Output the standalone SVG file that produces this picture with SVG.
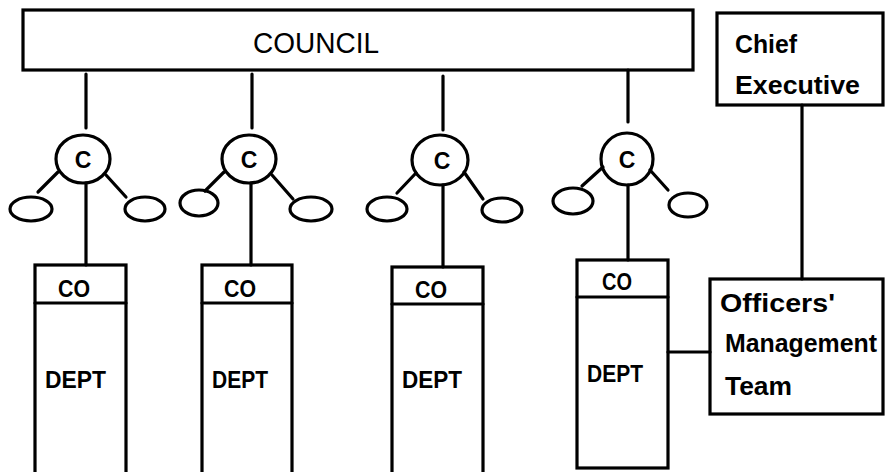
<svg xmlns="http://www.w3.org/2000/svg" width="887" height="472" viewBox="0 0 887 472">
<style>
.box{fill:none;stroke:#000;stroke-width:3.2}
.ln{fill:none;stroke:#000;stroke-width:3.2;stroke-linecap:round}
text{font-family:"Liberation Sans",Arial,sans-serif;font-weight:bold;fill:#000}
text.big{font-size:30px;font-weight:normal}
.t24{font-size:23px}
.t26{font-size:25px}
</style>
<rect width="887" height="472" fill="#fff"/>
<g id="council"><rect class="box" x="23" y="10" width="670" height="60"/><text class="big" x="253" y="53" textLength="126" lengthAdjust="spacingAndGlyphs">COUNCIL</text></g>
<g id="chief-executive"><rect class="box" x="717" y="13" width="166" height="92"/><text class="t26" x="735" y="53" textLength="62" lengthAdjust="spacingAndGlyphs">Chief</text><text class="t26" x="735" y="94" textLength="125" lengthAdjust="spacingAndGlyphs">Executive</text></g>
<g id="omt"><rect class="box" x="710" y="279" width="173" height="135"/><text class="t26" x="720" y="312" textLength="115" lengthAdjust="spacingAndGlyphs">Officers'</text><text class="t26" x="725" y="352" textLength="152" lengthAdjust="spacingAndGlyphs">Management</text><text class="t26" x="725" y="395" textLength="67" lengthAdjust="spacingAndGlyphs">Team</text></g>
<g id="c1"><ellipse class="box" cx="83" cy="159" rx="27" ry="24"/><text class="t24" x="83" y="168" text-anchor="middle">C</text><ellipse class="box" cx="31" cy="209" rx="21" ry="12"/><ellipse class="box" cx="145" cy="209" rx="20" ry="12"/></g>
<g id="c2"><ellipse class="box" cx="249" cy="159" rx="27" ry="24"/><text class="t24" x="249" y="168" text-anchor="middle">C</text><ellipse class="box" cx="199" cy="203" rx="19" ry="13"/><ellipse class="box" cx="311" cy="209" rx="21" ry="12"/></g>
<g id="c3"><ellipse class="box" cx="440" cy="160" rx="28" ry="25"/><text class="t24" x="442" y="169" text-anchor="middle">C</text><ellipse class="box" cx="387" cy="209" rx="20" ry="12"/><ellipse class="box" cx="502" cy="210" rx="20" ry="12"/></g>
<g id="c4"><ellipse class="box" cx="627" cy="159" rx="26" ry="26"/><text class="t24" x="627" y="168" text-anchor="middle">C</text><ellipse class="box" cx="573" cy="201" rx="20" ry="13"/><ellipse class="box" cx="688" cy="205" rx="19" ry="12"/></g>
<g id="dept1"><rect class="box" x="35" y="265" width="91" height="220"/><line class="ln" x1="35" y1="303" x2="126" y2="303"/><text class="t24" x="58" y="297" textLength="32" lengthAdjust="spacingAndGlyphs">CO</text><text class="t24" x="45" y="388" textLength="61" lengthAdjust="spacingAndGlyphs">DEPT</text></g>
<g id="dept2"><rect class="box" x="202" y="265" width="90" height="220"/><line class="ln" x1="202" y1="303" x2="292" y2="303"/><text class="t24" x="224" y="297" textLength="32" lengthAdjust="spacingAndGlyphs">CO</text><text class="t24" x="212" y="388" textLength="56" lengthAdjust="spacingAndGlyphs">DEPT</text></g>
<g id="dept3"><rect class="box" x="392" y="267" width="91" height="220"/><line class="ln" x1="392" y1="304" x2="483" y2="304"/><text class="t24" x="415" y="298" textLength="32" lengthAdjust="spacingAndGlyphs">CO</text><text class="t24" x="402" y="388" textLength="60" lengthAdjust="spacingAndGlyphs">DEPT</text></g>
<g id="dept4"><rect class="box" x="577" y="260" width="91" height="208"/><line class="ln" x1="577" y1="297" x2="668" y2="297"/><text class="t24" x="602" y="290" textLength="30" lengthAdjust="spacingAndGlyphs">CO</text><text class="t24" x="587" y="382" textLength="56" lengthAdjust="spacingAndGlyphs">DEPT</text></g>
<g id="connectors">
<line class="ln" x1="86" y1="74" x2="86" y2="128"/><line class="ln" x1="86" y1="183" x2="86" y2="265"/><line class="ln" x1="58" y1="172" x2="38" y2="192"/><line class="ln" x1="106" y1="175" x2="126" y2="197"/>
<line class="ln" x1="252" y1="74" x2="252" y2="128"/><line class="ln" x1="251" y1="183" x2="251" y2="265"/><line class="ln" x1="224" y1="172" x2="205" y2="191"/><line class="ln" x1="272" y1="175" x2="293" y2="199"/>
<line class="ln" x1="443" y1="76" x2="443" y2="130"/><line class="ln" x1="443" y1="185" x2="443" y2="267"/><line class="ln" x1="416" y1="173" x2="397" y2="193"/><line class="ln" x1="464" y1="172" x2="483" y2="199"/>
<line class="ln" x1="628" y1="70" x2="628" y2="122"/><line class="ln" x1="628" y1="185" x2="628" y2="260"/><line class="ln" x1="603" y1="167" x2="582" y2="186"/><line class="ln" x1="650" y1="170" x2="668" y2="190"/>
<line class="ln" x1="802" y1="105" x2="802" y2="279"/>
<line class="ln" x1="668" y1="352" x2="710" y2="352"/>
</g>
</svg>
